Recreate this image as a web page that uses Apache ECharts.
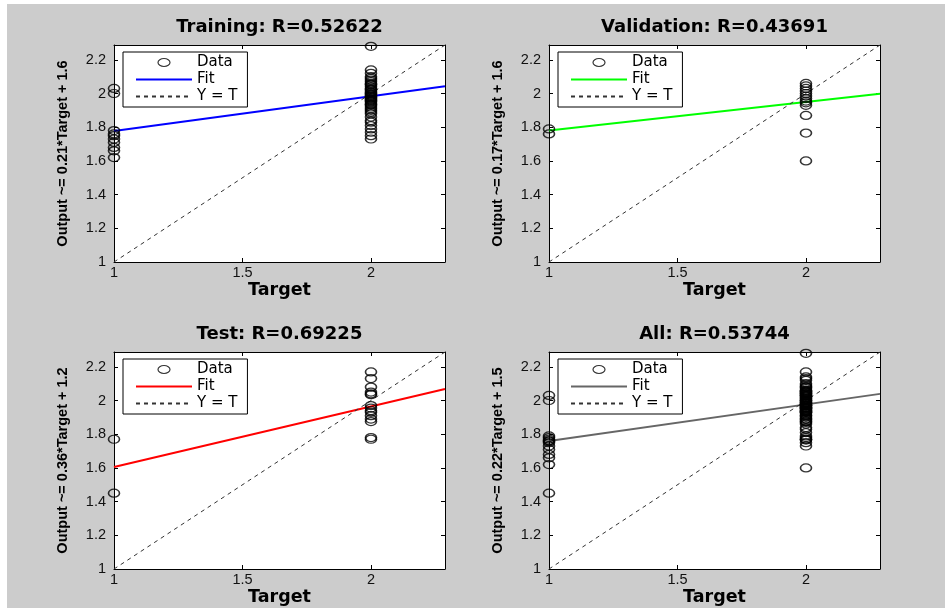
<!DOCTYPE html>
<html>
<head>
<meta charset="utf-8">
<script src="https://cdn.jsdelivr.net/npm/echarts@6/dist/echarts.min.js"></script>
<style>
  html, body { margin: 0; padding: 0; background: #ffffff; }
  #chart { position: absolute; left: 7px; top: 4px; width: 938px; height: 604px; }
</style>
</head>
<body>
<div id="chart"></div>
<script>
// Regression panels: network output against target for each data subset
const panelNames = ['Training', 'Validation', 'Test', 'All'];
const rValues = [0.52622, 0.43691, 0.69225, 0.53744];

// Linear fit  Output ~= slope * Target + intercept
const fitSlope = [0.207, 0.17, 0.36, 0.217];
const fitIntercept = [1.57, 1.61, 1.245, 1.543];
const fitColors = ['#0000ff', '#00ff00', '#ff0000', '#666666'];

// Outputs for samples whose target is 1 and 2
const trainAt1 = [2.03, 2.00, 1.78, 1.76, 1.75, 1.73, 1.71, 1.68, 1.66, 1.62];
const trainAt2 = [2.28, 2.14, 2.12, 2.10, 2.09, 2.08, 2.07, 2.06, 2.055, 2.05, 2.04, 2.03,
                  2.025, 2.02, 2.01, 2.005, 2.00, 1.995, 1.99, 1.985, 1.98, 1.975, 1.97,
                  1.965, 1.96, 1.955, 1.95, 1.94, 1.935, 1.93, 1.92, 1.91, 1.90, 1.89, 1.88,
                  1.86, 1.84, 1.83, 1.81, 1.79, 1.77, 1.75, 1.73];
const valAt1 = [1.79, 1.76];
const valAt2 = [2.06, 2.045, 2.03, 2.015, 2.00, 1.985, 1.97, 1.955, 1.945, 1.93, 1.87, 1.765, 1.60];
const testAt1 = [1.77, 1.45];
const testAt2 = [2.17, 2.13, 2.08, 2.05, 2.04, 2.035, 1.97, 1.955, 1.94, 1.93, 1.91, 1.89,
                 1.875, 1.78, 1.77];
const allAt1 = trainAt1.concat(valAt1, testAt1);
const allAt2 = trainAt2.concat(valAt2, testAt2);

const outputsAt1 = [trainAt1, valAt1, testAt1, allAt1];
const outputsAt2 = [trainAt2, valAt2, testAt2, allAt2];

const axisMin = 1;
const axisMax = 2.288;

// panel frames (px, inside the chart container)
const gridLeft = [107, 542, 107, 542];
const gridTop = [41, 41, 348, 348];
const gridW = 331;
const gridH = 217;

const ellipse = 'path://M0,4A6,4,0,1,1,12,4A6,4,0,1,1,0,4Z';
const tickFont = { fontFamily: 'Liberation Sans', fontSize: 14.5, color: '#111' };
const boldWide = { fontFamily: 'DejaVu Sans', fontWeight: 'bold', color: '#000' };

const option = {
  backgroundColor: '#cccccc',
  animation: false,
  title: [], grid: [], xAxis: [], yAxis: [], legend: [], series: []
};

for (let i = 0; i < 4; i++) {
  const key = panelNames[i];
  const m = fitSlope[i], b = fitIntercept[i];

  option.title.push({
    text: key + ': R=' + rValues[i],
    left: gridLeft[i] + gridW / 2,
    top: gridTop[i] - 27,
    textAlign: 'center',
    padding: 0,
    textStyle: Object.assign({ fontSize: 18 }, boldWide)
  });

  option.grid.push({
    left: gridLeft[i], top: gridTop[i], width: gridW, height: gridH,
    show: true, backgroundColor: '#ffffff', borderWidth: 0
  });

  const common = {
    type: 'value', min: axisMin, max: axisMax, gridIndex: i,
    axisLine: { show: true, onZero: false, lineStyle: { color: '#000', width: 1 } },
    axisTick: { show: true, inside: true, length: 4, lineStyle: { color: '#000' } },
    splitLine: { show: false }
  };

  option.xAxis.push(Object.assign({}, common, {
    position: 'bottom', interval: 0.5,
    axisLabel: Object.assign({ margin: 3, showMaxLabel: false }, tickFont),
    name: 'Target', nameLocation: 'middle', nameGap: 19,
    nameTextStyle: Object.assign({ fontSize: 17.5 }, boldWide)
  }));
  option.xAxis.push(Object.assign({}, common, {
    position: 'top', interval: 0.5, axisLabel: { show: false }
  }));

  option.yAxis.push(Object.assign({}, common, {
    position: 'left', interval: 0.2,
    axisLabel: Object.assign({ margin: 8, showMaxLabel: false }, tickFont),
    name: 'Output ~= ' + m.toPrecision(2) + '*Target + ' + b.toPrecision(2),
    nameLocation: 'middle', nameGap: 44, nameRotate: 90,
    nameTextStyle: { fontFamily: 'Liberation Sans', fontWeight: 'bold', fontSize: 14.5, color: '#000' }
  }));
  option.yAxis.push(Object.assign({}, common, {
    position: 'right', interval: 0.2, axisLabel: { show: false }
  }));

  const dataName = key + '|Data', fitName = key + '|Fit', idName = key + '|Y = T';

  option.legend.push({
    orient: 'vertical',
    left: gridLeft[i] + 9, top: gridTop[i] + 7,
    padding: [3, 10, 3, 12],
    itemWidth: 56, itemHeight: 8, itemGap: 2,
    backgroundColor: '#ffffff', borderColor: '#000', borderWidth: 1,
    selectedMode: false,
    textStyle: { fontFamily: 'DejaVu Sans', fontSize: 15, lineHeight: 15, color: '#000' },
    formatter: n => n.split('|')[1],
    data: [
      { name: dataName, icon: ellipse,
        itemStyle: { color: 'rgba(0,0,0,0)', borderColor: '#000', borderWidth: 1.2 } },
      { name: fitName, itemStyle: { opacity: 0 } },
      { name: idName, itemStyle: { opacity: 0 } }
    ]
  });

  option.series.push({
    name: fitName, type: 'line', xAxisIndex: 2 * i, yAxisIndex: 2 * i, z: 2,
    symbol: 'none', silent: true,
    lineStyle: { color: fitColors[i], width: 2 },
    itemStyle: { color: fitColors[i] },
    data: [[axisMin, m * axisMin + b], [axisMax, m * axisMax + b]]
  });
  option.series.push({
    name: idName, type: 'line', xAxisIndex: 2 * i, yAxisIndex: 2 * i, z: 2,
    symbol: 'none', silent: true,
    lineStyle: { color: '#333', width: 1, type: [4, 4] },
    itemStyle: { color: '#333' },
    data: [[axisMin, axisMin], [axisMax, axisMax]]
  });
  option.series.push({
    name: dataName, type: 'scatter', xAxisIndex: 2 * i, yAxisIndex: 2 * i, z: 3,
    symbol: ellipse, symbolSize: [11, 8], symbolKeepAspect: false, silent: true,
    itemStyle: { color: 'rgba(0,0,0,0)', borderColor: '#000', borderWidth: 1.4 },
    data: outputsAt1[i].map(v => [1, v]).concat(outputsAt2[i].map(v => [2, v]))
  });
}

const chart = echarts.init(document.getElementById('chart'), null, { renderer: 'canvas' });
chart.setOption(option);
</script>
</body>
</html>
